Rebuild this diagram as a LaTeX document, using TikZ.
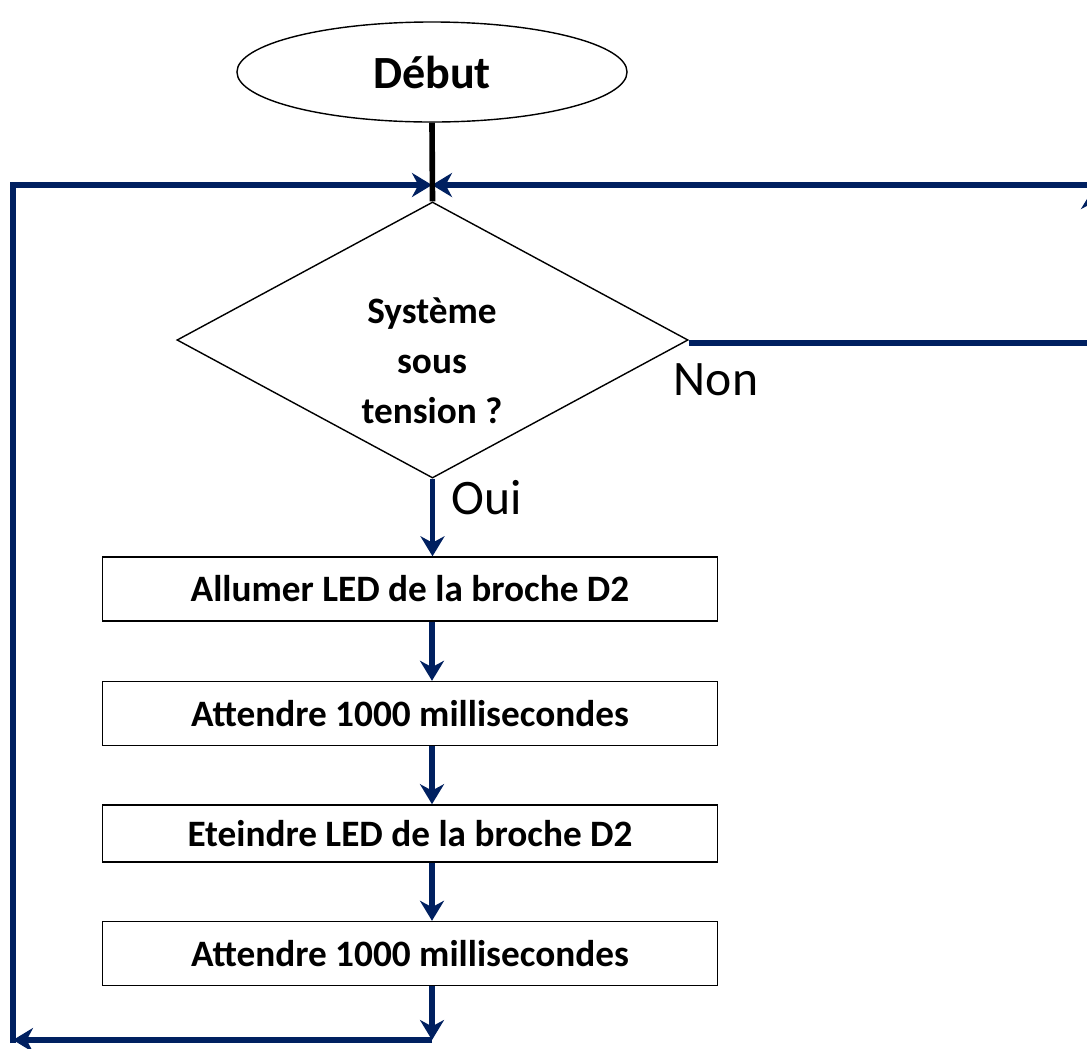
\documentclass[tikz,border=0pt]{standalone}
\usepackage{fontspec}
\setmainfont{Carlito}
\usetikzlibrary{shapes.geometric, arrows.meta, positioning}
\definecolor{navy}{HTML}{002060}

\begin{document}
\begin{tikzpicture}[x=0.025cm, y=-0.025cm,
  flow/.style={draw=navy, line width=4pt, -{Stealth[length=5mm, width=6mm, inset=1.6mm]}},
  flowline/.style={draw=navy, line width=4pt},
  box/.style={draw, line width=1pt, minimum width=15.375cm, minimum height=1.6cm,
    font=\fontsize{26.5}{30}\selectfont\bfseries},
  lbl/.style={font=\fontsize{35.3}{40}\selectfont}]
\useasboundingbox (0,0) rectangle (1087,1048);
\clip (0,0) rectangle (1087,1048);

\node[ellipse, draw, line width=1pt, minimum width=9.75cm, minimum height=2.5cm,
  font=\fontsize{32.8}{38}\selectfont\bfseries] (debut) at (432,72) {Début};
\node[diamond, draw, line width=1pt, aspect=1.85, inner sep=0pt,
  minimum width=12.775cm, minimum height=6.9cm] (test) at (432.5,340) {};
\node[align=center, font=\fontsize{26.5}{35.6}\selectfont\bfseries] (testtxt) at (432,361)
  {Système\\sous\\tension ?};
\node[box] (allumer) at (410,589) {Allumer LED de la broche D2};
\node[box] (att1) at (410,713.5) {Attendre 1000 millisecondes};
\node[box, minimum height=1.43cm] (eteindre) at (410,833.5) {Eteindre LED de la broche D2};
\node[box] (att2) at (410,953.5) {Attendre 1000 millisecondes};

\coordinate (join) at (432,185);
\coordinate (rtop) at (1093,185);
\coordinate (rnon) at (1093,343);
\coordinate (bas) at (432,1040);
\coordinate (gbas) at (13,1040);
\coordinate (ghaut) at (13,185);

% boucle principale
\draw[flowline] (test.east |- rnon) -- (rnon);
\draw[flow] (rnon) -- (1093,189);
\draw[flow] (rtop) -- (join);
\draw[flow] (13,1043) -- (ghaut) -- (join);
\draw[flow] (att2.south -| bas) -- (bas);
\draw[flow] (bas) -- (gbas);
\draw[line width=4pt] (debut.south) -- (test.north);

% etapes
\draw[flow] (test.south) -- (test.south |- allumer.north);
\draw[flow] (allumer.south -| bas) -- (att1.north -| bas);
\draw[flow] (att1.south -| bas) -- (eteindre.north -| bas);
\draw[flow] (eteindre.south -| bas) -- (att2.north -| bas);

\node[lbl] (non) at (716,380) {Non};
\node[lbl] (oui) at (487,498) {Oui};
\end{tikzpicture}
\end{document}
